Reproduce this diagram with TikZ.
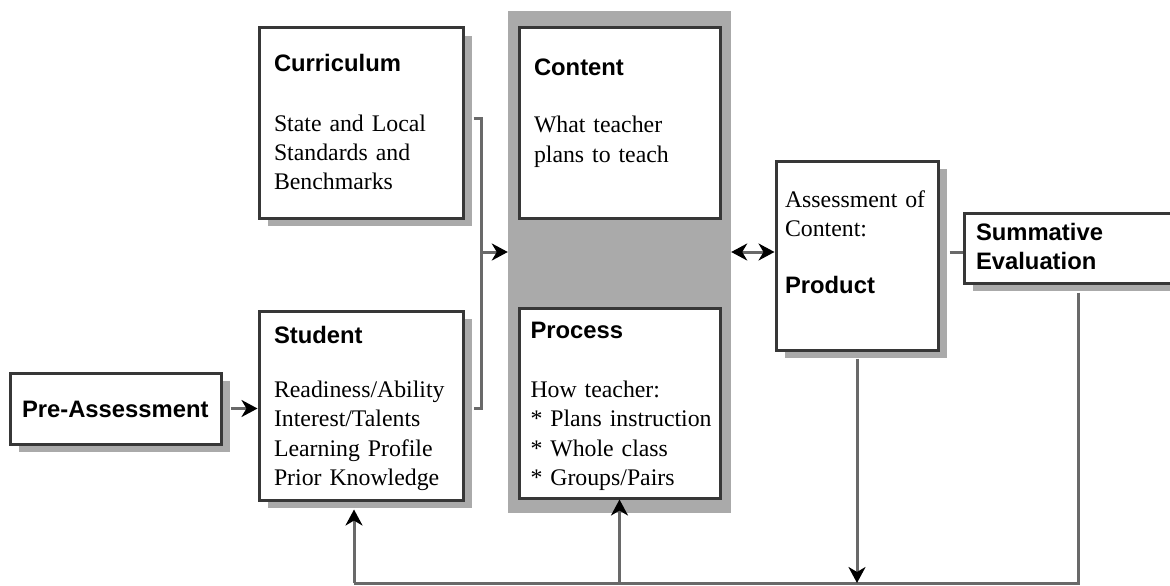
\documentclass[tikz,border=0pt]{standalone}
\usepackage{fontspec}
\setmainfont{Liberation Serif}
\setsansfont{Liberation Sans}
\usepackage{tikz}
\usetikzlibrary{arrows.meta}
\usetikzlibrary{shadows}
\definecolor{boxline}{RGB}{55,55,55}
\definecolor{wire}{RGB}{105,105,105}
\definecolor{shade}{RGB}{170,170,170}
\begin{document}
\begin{tikzpicture}[x=1pt, y=-1pt, >={Stealth[length=16pt,width=17pt,inset=5pt,color=black]},
    panel/.style={draw=boxline, line width=3pt, fill=white, align=left, inner xsep=15pt, inner ysep=0pt,
        drop shadow={shadow xshift=9pt, shadow yshift=-8pt, fill=shade, opacity=1},
        font=\fontsize{23.8}{29.5}\selectfont},
    link/.style={draw=wire, line width=3pt}]
        \useasboundingbox (0,0) rectangle (1170,586);
        \clip (0,0) rectangle (1170,586);

        % Grey band behind content and process
        \node[fill=shade, minimum width=223pt, minimum height=502pt, inner sep=0pt] (band) at (619.5,262) {};

        % Nodes for the boxes
        \node[panel, text width=174pt, text height=44pt, text depth=146pt] (curric) at (361,123)
            {\textsf{\textbf{Curriculum}}\\[29.5pt] State and Local\\ Standards and\\ Benchmarks};
        \node[panel, text width=174pt, text height=32pt, text depth=157pt, below of=curric, node distance=282.5pt] (student)
            {\textsf{\textbf{Student}}\\[24.5pt] Readiness/Ability\\ Interest/Talents\\ Learning Profile\\ Prior Knowledge};
        \node[panel, text width=171pt, text height=47pt, text depth=143pt, right of=curric, node distance=258.5pt] (content)
            {\textsf{\textbf{Content}}\\[28.5pt] What teacher\\ plans to teach};
        \node[panel, text width=178pt, inner xsep=11.5pt, text height=30pt, text depth=160pt, below of=content, node distance=280pt] (process)
            {\textsf{\textbf{Process}}\\[29.5pt] How teacher:\\\mbox{* Plans instruction}\\\mbox{* Whole class}\\\mbox{* Groups/Pairs}};
        \node[panel, text width=144pt, inner xsep=9pt, text height=46pt, text depth=143pt] (assess) at (857,255.5)
            {Assessment of\\ Content:\\[27.5pt] \textsf{\textbf{Product}}};
        \node[panel, text width=204pt, inner xsep=12pt, text height=27pt, text depth=43pt] (summ) at (1078,248)
            {\textsf{\textbf{Summative}}\\ \textsf{\textbf{Evaluation}}};
        \node[panel, text width=187pt, inner xsep=12pt, text height=44pt, text depth=27pt, left of=student, node distance=245.5pt, yshift=-3pt] (pre)
            {\textsf{\textbf{Pre-Assessment}}};

        % Edges between the boxes
        \coordinate (join) at (481,252);
        \coordinate (rail) at (1078,583);
        \draw[link] ([xshift=9pt,yshift=5pt]curric.east) -| (join) |- ([xshift=9pt,yshift=-3pt]student.east);
        \draw[link,->] (join) -- (band.west |- join);
        \draw[link,->] ([xshift=8pt]pre.east) -- (pre.east -| student.west);
        \draw[link,<->] (band.east |- join) -- (assess.west |- join);
        \draw[link] (assess.east |- join) ++(10,0) -- (summ.west |- join);
        \draw[link] ([yshift=-8pt]summ.south) -- (rail) -- (rail -| student) -- ++(-7,0);
        \draw[link,->] (rail -| student) ++(-7,0) -- ([xshift=-7pt,yshift=-8pt]student.south);
        \draw[link,->] (rail -| process) -- (process.south);
        \draw[link,->] ([yshift=-7pt]assess.south) -- (rail -| assess);
    \end{tikzpicture}
\end{document}
